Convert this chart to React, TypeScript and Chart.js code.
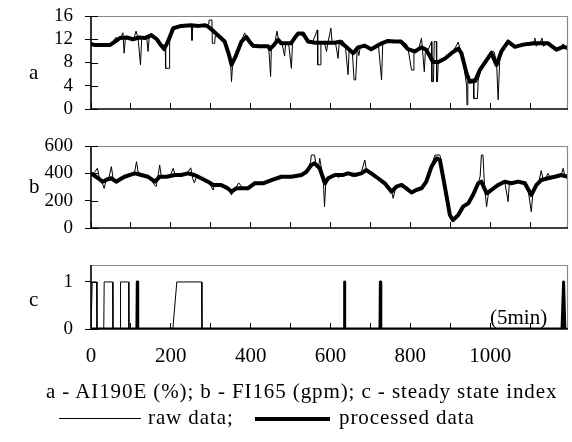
import React, { useEffect, useRef } from "react";
import { Chart, registerables } from "chart.js";

Chart.register(...registerables);

const FONT = "'Liberation Serif', 'DejaVu Serif', Tinos, 'Times New Roman', Times, serif";
const XMAX = 1195;
const X_TICKS = [0, 100, 200, 300, 400, 500, 600, 700, 800, 900, 1000, 1100];
const X_LABELS = [0, 200, 400, 600, 800, 1000];
const A_TICKS = [0, 4, 8, 12, 16];
const B_TICKS = [0, 200, 400, 600];
const C_TICKS = [0, 1];

// Panel a: AI190E (%)
const aProcX = [0, 10, 47, 60, 72, 90, 105, 120, 135, 151, 165, 175, 183, 192, 206, 226, 250, 270, 286, 293, 305, 318, 335, 345, 352, 362, 377, 389, 398, 406, 420, 444, 448, 458, 469, 476, 501, 510, 519, 531, 544, 561, 590, 611, 623, 634, 644, 657, 669, 686, 702, 715, 728, 744, 760, 777, 794, 811, 828, 840, 857, 870, 887, 903, 920, 928, 941, 949, 962, 974, 991, 1003, 1016, 1028, 1045, 1062, 1078, 1095, 1112, 1130, 1145, 1166, 1183, 1195];
const aProcY = [11.2, 11.0, 11.0, 11.6, 12.2, 12.3, 12.0, 12.3, 12.2, 12.7, 12.0, 11.0, 10.3, 11.5, 13.9, 14.3, 14.4, 14.3, 14.4, 14.2, 13.5, 12.7, 11.6, 9.5, 7.6, 9.0, 11.6, 12.4, 11.5, 10.9, 10.8, 10.8, 10.3, 11.0, 11.9, 11.3, 11.3, 12.2, 13.0, 13.0, 11.6, 11.4, 11.4, 11.4, 11.6, 11.0, 10.4, 9.6, 10.6, 10.9, 10.3, 10.8, 11.3, 11.7, 11.6, 11.6, 10.3, 9.9, 10.6, 10.2, 8.1, 8.1, 8.7, 9.6, 10.4, 9.6, 6.1, 4.7, 4.8, 6.7, 8.4, 9.6, 7.6, 9.9, 11.6, 10.7, 11.0, 11.2, 11.3, 11.3, 11.3, 10.2, 10.7, 10.5];
const aRawX = [0, 10, 20, 35, 47, 55, 62, 70, 76, 80, 83, 86, 95, 100, 108, 113, 118, 124, 127, 135, 140, 143, 146, 151, 158, 165, 175, 186, 187, 196, 197, 202, 210, 226, 240, 252, 253, 255, 270, 285, 295, 296, 303, 304, 310, 311, 320, 328, 335, 345, 350, 352, 355, 365, 377, 385, 390, 395, 400, 405, 420, 435, 445, 450, 452, 460, 466, 470, 478, 485, 488, 495, 502, 505, 512, 519, 527, 535, 544, 555, 567, 568, 575, 576, 585, 590, 593, 601, 604, 612, 619, 622, 630, 637, 644, 647, 655, 659, 663, 667, 671, 675, 686, 695, 702, 710, 720, 728, 731, 744, 760, 777, 790, 794, 803, 807, 809, 820, 828, 835, 838, 845, 853, 854, 858, 860, 865, 866, 868, 870, 880, 887, 895, 903, 912, 920, 928, 935, 941, 942, 944, 950, 958, 959, 968, 970, 980, 991, 1003, 1010, 1016, 1020, 1024, 1028, 1040, 1045, 1055, 1062, 1078, 1095, 1110, 1112, 1115, 1125, 1130, 1133, 1145, 1160, 1166, 1175, 1183, 1188, 1195];
const aRawY = [11.3, 10.9, 11.1, 11.0, 11.1, 11.6, 12.3, 12.0, 12.5, 13.1, 9.6, 12.0, 12.2, 11.9, 12.3, 13.4, 12.1, 7.6, 12.1, 12.4, 12.0, 9.9, 12.5, 13.0, 12.3, 11.8, 11.0, 11.0, 7.0, 7.0, 11.5, 13.9, 14.0, 14.2, 14.4, 14.3, 11.8, 14.3, 14.3, 14.4, 14.6, 15.3, 15.3, 11.3, 11.3, 12.5, 12.6, 12.0, 11.4, 10.0, 7.5, 4.7, 8.0, 9.6, 11.8, 13.1, 12.0, 11.6, 11.0, 10.6, 10.9, 10.9, 10.8, 5.6, 10.8, 11.2, 13.4, 11.8, 11.5, 9.1, 11.4, 11.3, 7.0, 11.5, 12.8, 13.2, 12.7, 12.4, 11.7, 11.5, 13.6, 7.6, 7.6, 11.5, 11.4, 9.9, 11.2, 13.9, 11.5, 11.6, 8.7, 11.6, 11.8, 11.0, 5.9, 10.5, 9.5, 5.0, 5.0, 10.5, 9.2, 10.8, 11.2, 10.6, 10.3, 10.6, 11.1, 5.0, 11.4, 11.8, 11.5, 11.6, 11.2, 10.5, 6.7, 6.7, 10.0, 10.1, 12.2, 6.4, 10.3, 10.2, 11.6, 4.7, 4.7, 11.6, 11.6, 4.7, 4.7, 8.2, 8.4, 8.9, 8.8, 9.8, 10.5, 11.5, 9.5, 7.0, 4.0, 0.7, 4.8, 5.0, 5.2, 1.8, 1.8, 5.0, 7.4, 8.7, 10.0, 9.8, 8.0, 1.6, 8.5, 10.2, 11.3, 11.9, 11.2, 10.6, 11.0, 11.2, 11.6, 12.2, 10.8, 11.4, 12.2, 10.8, 11.3, 10.6, 10.2, 10.5, 11.2, 10.4, 10.6];

// Panel b: FI165 (gpm)
const bProcX = [0, 18, 29, 40, 51, 63, 75, 84, 100, 110, 126, 143, 160, 172, 189, 210, 226, 243, 259, 276, 293, 306, 326, 343, 352, 364, 385, 393, 410, 431, 452, 477, 502, 527, 540, 552, 560, 573, 586, 594, 611, 632, 644, 661, 677, 690, 702, 719, 736, 753, 765, 778, 790, 803, 815, 828, 840, 853, 866, 874, 882, 891, 899, 907, 920, 932, 945, 957, 970, 978, 991, 1003, 1020, 1036, 1053, 1070, 1087, 1103, 1116, 1128, 1145, 1162, 1178, 1195];
const bProcY = [400, 364, 339, 355, 364, 339, 360, 375, 390, 400, 388, 375, 339, 375, 375, 388, 388, 400, 388, 364, 339, 315, 315, 290, 266, 290, 290, 290, 327, 327, 351, 375, 375, 388, 412, 461, 473, 437, 327, 364, 388, 388, 400, 388, 400, 424, 400, 364, 327, 266, 303, 315, 290, 260, 278, 290, 339, 449, 510, 498, 375, 229, 95, 58, 95, 156, 180, 241, 327, 339, 254, 278, 315, 339, 327, 339, 327, 241, 315, 351, 364, 375, 388, 375];
const bRawX = [0, 8, 16, 20, 28, 33, 38, 45, 51, 55, 63, 70, 78, 84, 92, 100, 108, 114, 118, 126, 135, 143, 150, 158, 163, 167, 172, 176, 189, 198, 206, 210, 218, 226, 236, 243, 250, 255, 259, 266, 276, 285, 293, 300, 306, 310, 320, 330, 343, 352, 356, 364, 370, 380, 393, 400, 410, 420, 431, 440, 452, 465, 477, 490, 502, 515, 527, 540, 550, 552, 560, 564, 570, 573, 577, 582, 585, 588, 594, 605, 611, 620, 632, 644, 655, 661, 670, 677, 686, 690, 702, 712, 719, 728, 736, 745, 753, 757, 762, 770, 778, 785, 790, 797, 803, 810, 815, 822, 828, 835, 840, 848, 853, 862, 874, 878, 882, 887, 891, 899, 907, 915, 920, 927, 932, 940, 945, 950, 957, 965, 970, 975, 978, 982, 986, 991, 995, 1003, 1012, 1020, 1030, 1036, 1045, 1048, 1053, 1062, 1070, 1080, 1087, 1095, 1103, 1107, 1116, 1122, 1128, 1133, 1140, 1145, 1152, 1158, 1162, 1170, 1178, 1183, 1187, 1195];
const bRawY = [395, 405, 437, 380, 330, 290, 350, 370, 449, 370, 330, 350, 365, 380, 370, 400, 390, 485, 410, 395, 380, 370, 360, 320, 303, 360, 461, 380, 370, 380, 437, 395, 385, 395, 400, 410, 440, 360, 330, 390, 370, 350, 340, 310, 278, 320, 310, 315, 290, 241, 270, 300, 330, 295, 280, 300, 340, 325, 330, 340, 355, 370, 380, 370, 380, 385, 390, 420, 480, 534, 534, 460, 440, 510, 440, 350, 156, 320, 365, 380, 395, 370, 395, 400, 375, 395, 390, 405, 498, 420, 405, 380, 360, 330, 320, 290, 270, 217, 280, 300, 320, 295, 285, 270, 250, 265, 280, 300, 290, 300, 340, 400, 460, 534, 534, 480, 360, 300, 230, 100, 50, 70, 100, 150, 160, 175, 190, 210, 250, 290, 320, 380, 534, 534, 300, 156, 240, 280, 300, 320, 330, 345, 193, 330, 330, 335, 345, 330, 320, 280, 119, 260, 320, 340, 420, 350, 370, 400, 360, 380, 370, 385, 390, 437, 380, 370];

// Panel c: steady state index
const cRawX = [0, 3, 14, 15, 32, 33, 54, 55, 73, 74, 94, 95, 205, 215, 277, 278, 1195];
const cRawY = [0, 1, 1, 0, 0, 1, 1, 0, 0, 1, 1, 0, 0, 1, 1, 0, 0];
const cProcX = [0, 115, 116, 117, 633, 634, 635, 636, 724, 725, 726, 727, 1180, 1184, 1187, 1195];
const cProcY = [0, 0, 1, 0, 0, 0, 1, 0, 0, 1, 0, 0, 0, 1, 0, 0];

const pts = (xs: number[], ys: number[]) => xs.map((x, i) => ({ x, y: ys[i] }));

const framePlugin = {
  id: "frame",
  afterDatasetsDraw(chart: any) {
    const { ctx, chartArea } = chart;
    const { left, right, top, bottom } = chartArea;
    ctx.save();
    ctx.lineWidth = 1.2;
    ctx.strokeStyle = "#8a8a8a";
    ctx.beginPath();
    ctx.moveTo(left, top + 0.5);
    ctx.lineTo(right - 0.5, top + 0.5);
    ctx.lineTo(right - 0.5, bottom);
    ctx.stroke();
    ctx.strokeStyle = "#000";
    ctx.lineWidth = 1.6;
    ctx.beginPath();
    ctx.moveTo(left, top);
    ctx.lineTo(left, bottom);
    ctx.lineTo(right, bottom);
    ctx.stroke();
    // inner half of the crossing y tick marks
    const ys = chart.scales.y;
    ctx.lineWidth = 1;
    ctx.beginPath();
    ys.ticks.forEach((t: any) => {
      const py = Math.round(ys.getPixelForValue(t.value)) + 0.5;
      ctx.moveTo(left, py);
      ctx.lineTo(left + 7, py);
    });
    ctx.stroke();
    ctx.restore();
  },
};

type PanelCfg = {
  raw: { x: number; y: number }[];
  proc: { x: number; y: number }[];
  ymin: number;
  ymax: number;
  yticks: number[];
  height: number;
  padTop: number;
  padBottom: number;
  xLabels: boolean;
  xAxisH: number;
  procWidth: number;
};

function Panel({ cfg, top }: { cfg: PanelCfg; top: number }) {
  const ref = useRef<HTMLCanvasElement>(null);
  useEffect(() => {
    if (!ref.current) return;
    const chart = new Chart(ref.current, {
      type: "line",
      data: {
        datasets: [
          {
            data: cfg.raw,
            borderColor: "#000",
            borderWidth: 1,
            pointRadius: 0,
            tension: 0,
          },
          {
            data: cfg.proc,
            borderColor: "#000",
            borderWidth: cfg.procWidth,
            pointRadius: 0,
            tension: 0,
            borderJoinStyle: "round",
          },
        ],
      },
      options: {
        animation: false,
        responsive: false,
        parsing: false as any,
        events: [],
        layout: { padding: { left: 0, right: 4, top: cfg.padTop, bottom: cfg.padBottom } },
        plugins: { legend: { display: false }, tooltip: { enabled: false } },
        scales: {
          x: {
            type: "linear",
            min: 0,
            max: XMAX,
            afterBuildTicks: (s: any) => {
              s.ticks = X_TICKS.map((v) => ({ value: v }));
            },
            grid: { display: true, drawOnChartArea: false, drawTicks: true, tickLength: -6, color: "#000", lineWidth: 1 },
            border: { display: false },
            ticks: {
              display: cfg.xLabels,
              autoSkip: false,
              maxRotation: 0,
              padding: 21,
              color: "#000",
              font: { family: FONT, size: 21 },
              callback: (v: any) => (X_LABELS.includes(Number(v)) ? String(v) : ""),
            },
            afterFit: (s: any) => {
              s.height = cfg.xAxisH;
              s.paddingLeft = 0;
              s.paddingRight = 0;
            },
          },
          y: {
            type: "linear",
            min: cfg.ymin,
            max: cfg.ymax,
            afterBuildTicks: (s: any) => {
              s.ticks = cfg.yticks.map((v) => ({ value: v }));
            },
            grid: { display: true, drawOnChartArea: false, drawTicks: true, tickLength: 6, color: "#000", lineWidth: 1 },
            border: { display: false },
            ticks: { color: "#000", font: { family: FONT, size: 19 }, padding: 12, autoSkip: false },
            afterFit: (s: any) => {
              s.width = 91;
              s.paddingTop = 0;
              s.paddingBottom = 0;
            },
          },
        },
      },
      plugins: [framePlugin],
    } as any);
    return () => chart.destroy();
  }, []);
  return (
    <canvas
      ref={ref}
      width={572}
      height={cfg.height}
      style={{ position: "absolute", left: 0, top, width: 572, height: cfg.height }}
    />
  );
}

const panelA: PanelCfg = {
  raw: pts(aRawX, aRawY),
  proc: pts(aProcX, aProcY),
  ymin: 0,
  ymax: 16,
  yticks: A_TICKS,
  height: 125,
  padTop: 16,
  padBottom: 16,
  xLabels: false,
  xAxisH: 0,
  procWidth: 4,
};
const panelB: PanelCfg = {
  raw: pts(bRawX, bRawY),
  proc: pts(bProcX, bProcY),
  ymin: 0,
  ymax: 600,
  yticks: B_TICKS,
  height: 110,
  padTop: 16,
  padBottom: 12,
  xLabels: false,
  xAxisH: 0,
  procWidth: 4,
};
const panelC: PanelCfg = {
  raw: pts(cRawX, cRawY),
  proc: pts(cProcX, cProcY),
  ymin: 0,
  ymax: 1.36,
  yticks: C_TICKS,
  height: 140,
  padTop: 25,
  padBottom: 11,
  xLabels: true,
  xAxisH: 40,
  procWidth: 3,
};

const textStyle: React.CSSProperties = {
  position: "absolute",
  fontFamily: FONT,
  fontSize: 21,
  color: "#000",
  lineHeight: "1",
  whiteSpace: "nowrap",
};
const legendText: React.CSSProperties = { ...textStyle, letterSpacing: "0.9px" };

export default function App() {
  return (
    <div style={{ position: "absolute", left: 0, top: 0, width: 572, height: 442, background: "#fff", overflow: "hidden" }}>
      <Panel cfg={panelA} top={0} />
      <Panel cfg={panelB} top={130} />
      <Panel cfg={panelC} top={240} />
      <div style={{ ...textStyle, left: 29, top: 62 }}>a</div>
      <div style={{ ...textStyle, left: 29, top: 176 }}>b</div>
      <div style={{ ...textStyle, left: 29, top: 289 }}>c</div>
      <div style={{ ...textStyle, left: 490, top: 307 }}>(5min)</div>
      <div style={{ ...legendText, left: 46, top: 381 }}>a - AI190E (%); b - FI165 (gpm); c - steady state index</div>
      <div style={{ position: "absolute", left: 59, top: 418, width: 82, height: 1, background: "#000" }} />
      <div style={{ ...legendText, left: 148, top: 407 }}>raw data;</div>
      <div style={{ position: "absolute", left: 255, top: 417, width: 75, height: 4, background: "#000" }} />
      <div style={{ ...legendText, left: 339, top: 407 }}>processed data</div>
    </div>
  );
}
